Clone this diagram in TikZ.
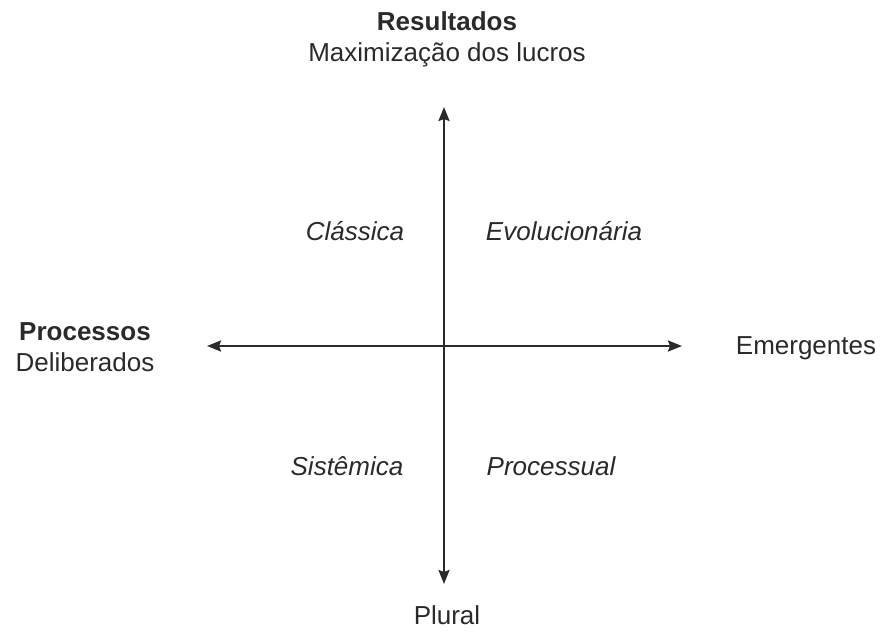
\documentclass[tikz,border=0pt]{standalone}
\usepackage{fontspec}
\setmainfont{Liberation Sans}
\usetikzlibrary{arrows.meta}
\definecolor{ink}{HTML}{2A2A2A}
\begin{document}
\begin{tikzpicture}[x=1pt,y=-1pt,
  lbl/.style={text=ink,font=\fontsize{26}{31}\selectfont,inner sep=0pt,align=center},
  quad/.style={lbl,font=\fontsize{26}{31}\selectfont\itshape},
  tip/.style={Stealth[length=14pt,width=11pt,inset=2pt]},
  axis/.style={draw=ink,line width=2.3pt,{Stealth[length=14pt,width=11pt,inset=2pt]}-{Stealth[length=14pt,width=11pt,inset=2pt]}}]
\useasboundingbox (0,0) rectangle (881,633);
% axis end points
\coordinate (top) at (444,107);
\coordinate (bot) at (444,584);
\coordinate (lft) at (207,346);
\coordinate (rgt) at (682,346);
\draw[axis] (top) -- (bot);
\draw[axis] (lft) -- (rgt);
% axis labels
\node[lbl] (res) at (447,39) {\textbf{Resultados}\\Maximização dos lucros};
\node[lbl] (proc) at (85,347) {\textbf{Processos}\\Deliberados};
\node[lbl] (emer) at (806,348) {Emergentes};
\node[lbl] (plur) at (447,615) {Plural};
% quadrant labels
\node[quad] (cla) at (355,231) {Clássica};
\node[quad] (evo) at (564,231) {Evolucionária};
\node[quad] (sis) at (347,466) {Sistêmica};
\node[quad] (pro) at (551,466) {Processual};
\end{tikzpicture}
\end{document}
